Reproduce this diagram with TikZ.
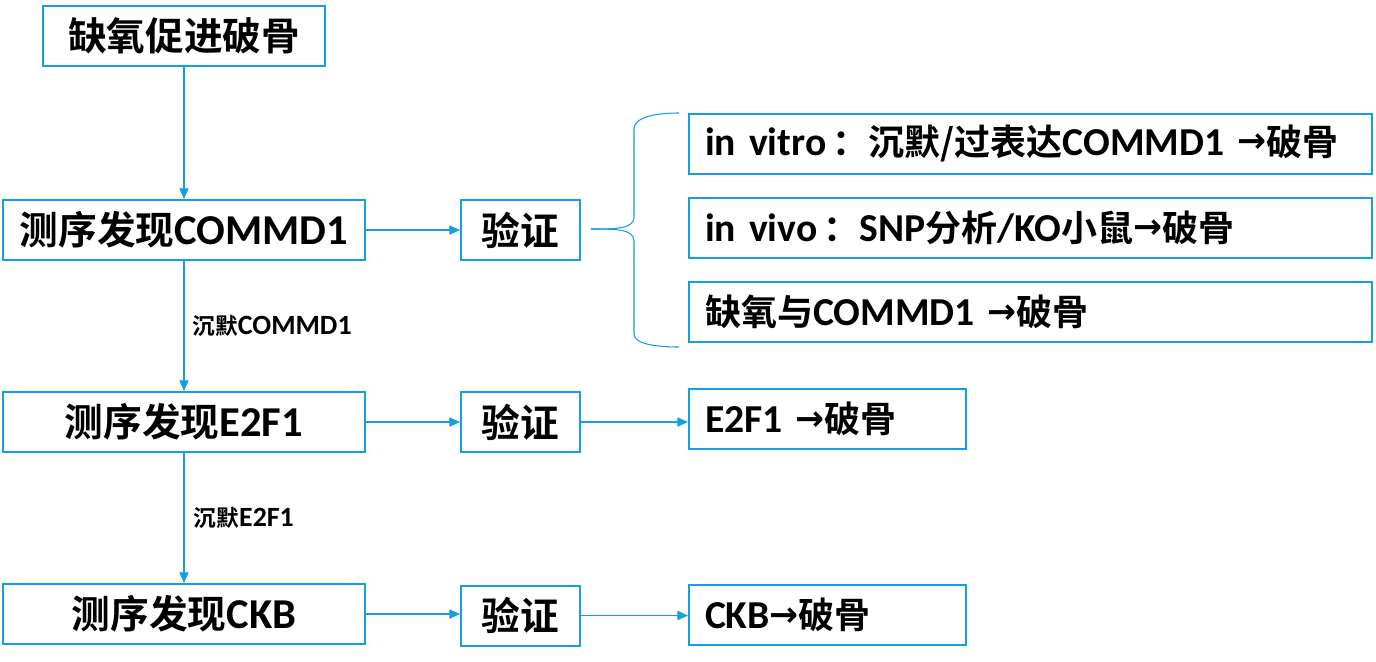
\documentclass[tikz,border=0pt]{standalone}
\usepackage{fontspec}
\setmainfont{Carlito}[Scale=1.1]
\newfontfamily\cj{Noto Sans CJK SC}[BoldFont={Noto Sans CJK SC Bold}]
\newfontfamily\arrfont{DejaVu Sans}
\usetikzlibrary{arrows.meta,calc}
\newcommand\C[1]{{\cj\bfseries #1}}
\newcommand\Ar{\raisebox{2pt}{\arrfont\fontsize{26}{26}\selectfont →}}
\newcommand\Lt[1]{{\fontsize{19}{21}\selectfont #1}}
\definecolor{lblue}{RGB}{20,160,222}
\tikzset{
  box/.style={draw=lblue, line width=1.5pt, fill=white, font=\bfseries\fontsize{29}{32}\selectfont, inner sep=0pt, minimum height=45pt},
  rbox/.style={box, font=\bfseries\fontsize{27}{30}\selectfont, align=left, anchor=west, inner xsep=12pt, inner ysep=0pt},
  conn/.style={draw=lblue, line width=0.8pt, -{Triangle[length=8pt,width=7pt]}},
  lbl/.style={font=\bfseries\fontsize{17}{19}\selectfont, anchor=west, inner sep=0pt},
}
\begin{document}
\begin{tikzpicture}[x=0.75pt,y=-0.75pt]
\useasboundingbox (0,0) rectangle (1376,661);
% left column
\node[box, minimum width=211.5pt] (top) at (184,35.5) {\C{缺氧促进破骨}};
\node[box, minimum width=271.5pt] (s1) at (184,230) {\C{测序发现}COMMD1};
\node[box, minimum width=271.5pt] (s2) at (184,422) {\C{测序发现}E2F1};
\node[box, minimum width=271.5pt] (s3) at (184,614) {\C{测序发现}CKB};
% verify boxes
\node[box, minimum width=89.25pt] (v1) at (520.5,230) {\C{验证}};
\node[box, minimum width=89.25pt] (v2) at (520.5,422) {\C{验证}};
\node[box, minimum width=89.25pt] (v3) at (520.5,615.5) {\C{验证}};
% right boxes
\node[rbox, minimum width=512.25pt, text width=488.25pt] (r1) at (688,143.5) {in vitro\,\C{：沉默/过表达}COMMD1 \Ar\C{破骨}};
\node[rbox, minimum width=512.25pt, text width=488.25pt] (r2) at (688,228) {in vivo\,\C{：}SNP\C{分析}/KO\C{小鼠}\Ar\C{破骨}};
\node[rbox, minimum width=512.25pt, text width=488.25pt] (r3) at (688,312) {\C{缺氧与}COMMD1 \Ar\C{破骨}};
\node[rbox, minimum width=207.75pt, text width=183.75pt] (e1) at (688,419) {E2F1 \Ar\C{破骨}};
\node[rbox, minimum width=207.75pt, text width=183.75pt] (c1) at (688,615) {CKB\Ar\C{破骨}};
% connectors
\draw[conn] (top) -- (s1);
\draw[conn] (s1) -- (v1);
\draw[conn] (s1) -- node[lbl, pos=0.5, xshift=6pt] (l1) {\C{沉默}\Lt{COMMD1}} (s2);
\draw[conn] (s2) -- (v2);
\draw[conn] (v2) -- (v2 -| e1.west);
\draw[conn] (s2) -- node[lbl, pos=0.5, xshift=7pt] (l2) {\C{沉默}\Lt{E2F1}} (s3);
\draw[conn] (s3) -- (s3 -| v3.west);
\draw[conn] (v3) -- (v3 -| c1.west);
% brace
\coordinate (bt) at ($(v1.east)+(10,-1)$);
\draw[draw=lblue, line width=0.8pt]
  (bt) .. controls ($(bt)+(25,0)$) and ($(bt)+(43,0)$) .. ($(bt)+(43,-12)$)
  -- ($(bt)+(43,-100)$) .. controls ($(bt)+(43,-112)$) and ($(bt)+(65,-116)$) .. ($(bt)+(88,-116)$);
\draw[draw=lblue, line width=0.8pt]
  (bt) .. controls ($(bt)+(25,0)$) and ($(bt)+(43,0)$) .. ($(bt)+(43,12)$)
  -- ($(bt)+(43,105)$) .. controls ($(bt)+(43,115)$) and ($(bt)+(65,118)$) .. ($(bt)+(88,118)$);
\end{tikzpicture}
\end{document}
